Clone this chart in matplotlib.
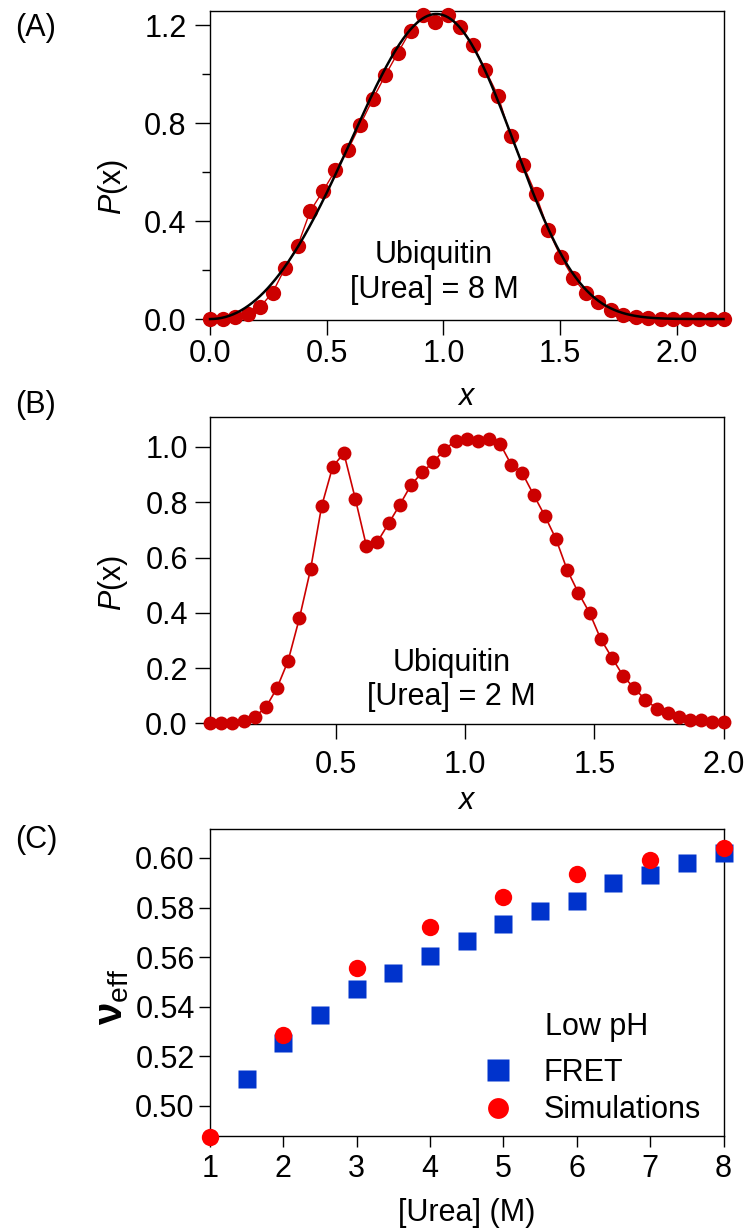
import numpy as np
import matplotlib
matplotlib.use("Agg")
import matplotlib.pyplot as plt
from matplotlib.ticker import FixedLocator, FormatStrFormatter

plt.rcParams['font.family'] = ['Liberation Sans', 'DejaVu Sans']
plt.rcParams['mathtext.fontset'] = 'custom'
plt.rcParams['mathtext.rm'] = 'Liberation Sans'
plt.rcParams['mathtext.it'] = 'Liberation Sans:italic'
plt.rcParams['mathtext.bf'] = 'Liberation Sans:bold'

# ---- panel A: Ubiquitin, 8 M urea ----
x_a = [0.000, 0.054, 0.107, 0.161, 0.215, 0.268, 0.322, 0.376, 0.429, 0.483,
       0.537, 0.590, 0.644, 0.698, 0.751, 0.805, 0.859, 0.912, 0.966, 1.020,
       1.073, 1.127, 1.180, 1.234, 1.288, 1.341, 1.395, 1.449, 1.502, 1.556,
       1.610, 1.663, 1.717, 1.771, 1.824, 1.878, 1.932, 1.985, 2.039, 2.093,
       2.146, 2.200]
p_a = [0.000, 0.000, 0.007, 0.020, 0.050, 0.108, 0.209, 0.300, 0.440, 0.521,
       0.607, 0.689, 0.794, 0.899, 0.995, 1.087, 1.177, 1.241, 1.214, 1.241,
       1.190, 1.118, 1.016, 0.911, 0.746, 0.630, 0.511, 0.364, 0.255, 0.168,
       0.105, 0.068, 0.038, 0.018, 0.007, 0.003, 0.000, 0.000, 0.000, 0.000,
       0.000, 0.000]
# fit (black line): P = amp * (x/xp)^a * exp((a/d) * (1 - (x/xp)^d))
FIT_AMP = 1.245
FIT_XP = 0.970
FIT_A = 2.05
FIT_D = 4.0

# ---- panel B: Ubiquitin, 2 M urea ----
x_b = [0.013, 0.056, 0.099, 0.143, 0.186, 0.229, 0.272, 0.315, 0.359, 0.402,
       0.445, 0.488, 0.531, 0.575, 0.618, 0.661, 0.704, 0.747, 0.790, 0.834,
       0.877, 0.920, 0.963, 1.006, 1.050, 1.093, 1.136, 1.179, 1.222, 1.266,
       1.309, 1.352, 1.395, 1.438, 1.482, 1.525, 1.568, 1.611, 1.654, 1.698,
       1.741, 1.784, 1.827, 1.870, 1.914, 1.957, 2.000]
p_b = [0.000, 0.000, 0.000, 0.008, 0.024, 0.058, 0.128, 0.226, 0.381, 0.557,
       0.786, 0.929, 0.977, 0.813, 0.642, 0.657, 0.723, 0.790, 0.861, 0.908,
       0.945, 0.990, 1.022, 1.030, 1.022, 1.030, 1.010, 0.935, 0.904, 0.825,
       0.750, 0.666, 0.555, 0.473, 0.399, 0.305, 0.238, 0.173, 0.127, 0.086,
       0.054, 0.038, 0.022, 0.013, 0.011, 0.007, 0.004]

# ---- panel C: nu_eff vs urea ----
urea_fret = [1.5, 2.0, 2.5, 3.0, 3.5, 4.0, 4.5, 5.0, 5.5, 6.0, 6.5, 7.0, 7.5, 8.0]
nu_fret = [0.5109, 0.5252, 0.5367, 0.5472, 0.5535, 0.5605, 0.5664, 0.5733,
           0.5787, 0.5827, 0.5898, 0.5931, 0.5978, 0.6018]
urea_sim = [1, 2, 3, 4, 5, 6, 7, 8]
nu_sim = [0.4875, 0.5284, 0.5557, 0.5722, 0.5844, 0.5934, 0.5992, 0.6040]

DARKRED = "#cc0000"
BLUE = "#0033cc"
RED = "#ff0000"
FS = 22

fig = plt.figure(figsize=(7.49, 12.29), dpi=100)
axA = fig.add_axes([0.2804, 0.7396, 0.6856, 0.2514])
axB = fig.add_axes([0.2804, 0.4109, 0.6856, 0.2498])
axC = fig.add_axes([0.2804, 0.0757, 0.6856, 0.2498])

for ax in (axA, axB, axC):
    for s in ax.spines.values():
        s.set_linewidth(1.0)

# panel A
axA.plot(x_a, p_a, color=DARKRED, lw=1.0, zorder=2, clip_on=False)
axA.plot(x_a, p_a, 'o', color=DARKRED, ms=11, mec='none', zorder=3, clip_on=False)
xf = np.linspace(0, 2.2, 400)
rf = xf / FIT_XP
axA.plot(xf, FIT_AMP * rf ** FIT_A * np.exp(FIT_A / FIT_D * (1 - rf ** FIT_D)),
         color='black', lw=1.8, zorder=4, clip_on=False)
axA.set_xlim(0, 2.2)
axA.set_ylim(-0.004, 1.257)
axA.set_xticks([0, 0.5, 1.0, 1.5, 2.0])
axA.set_yticks([0, 0.4, 0.8, 1.2])
axA.yaxis.set_minor_locator(FixedLocator([0.2, 0.6, 1.0]))
axA.xaxis.set_major_formatter(FormatStrFormatter('%.1f'))
axA.yaxis.set_major_formatter(FormatStrFormatter('%.1f'))
axA.tick_params(axis='both', which='major', direction='out', length=11, width=1,
                labelsize=FS)
axA.tick_params(axis='x', pad=3)
axA.tick_params(axis='y', pad=6)
axA.tick_params(axis='y', which='minor', direction='out', length=6, width=1)
axA.text(0.96, 0.261, "Ubiquitin", ha='center', va='center', fontsize=FS)
axA.text(0.96, 0.118, "[Urea] = 8 M", ha='center', va='center', fontsize=FS)
axA.set_ylabel(r"$P$(x)", fontsize=FS)
axA.set_xlabel(r"$x$", fontsize=FS)

# panel B
axB.plot(x_b, p_b, color=DARKRED, lw=1.2, zorder=2, clip_on=False)
axB.plot(x_b, p_b, 'o', color=DARKRED, ms=10, mec='none', zorder=3, clip_on=False)
axB.set_xlim(x_b[0], x_b[-1])
axB.set_ylim(-0.002, 1.108)
axB.set_xticks([0.5, 1.0, 1.5, 2.0])
axB.set_yticks([0, 0.2, 0.4, 0.6, 0.8, 1.0])
axB.xaxis.set_major_formatter(FormatStrFormatter('%.1f'))
axB.yaxis.set_major_formatter(FormatStrFormatter('%.1f'))
axB.tick_params(axis='both', which='major', direction='out', length=11, width=1,
                labelsize=FS)
axB.tick_params(axis='x', pad=8)
axB.tick_params(axis='y', pad=5)
axB.text(0.948, 0.220, "Ubiquitin", ha='center', va='center', fontsize=FS)
axB.text(0.948, 0.097, "[Urea] = 2 M", ha='center', va='center', fontsize=FS)
axB.set_ylabel(r"$P$(x)", fontsize=FS)
axB.set_xlabel(r"$x$", fontsize=FS)

# panel C
axC.plot(urea_fret, nu_fret, 's', color=BLUE, ms=13, mec='none', zorder=3,
         clip_on=False, label="FRET")
axC.plot(urea_sim, nu_sim, 'o', color=RED, ms=12.5, mec='none', zorder=4,
         clip_on=False, label="Simulations")
axC.set_xlim(1, 8)
axC.set_ylim(0.4878, 0.6117)
axC.set_xticks(range(1, 9))
axC.set_yticks([0.50, 0.52, 0.54, 0.56, 0.58, 0.60])
axC.yaxis.set_major_formatter(FormatStrFormatter('%.2f'))
axC.tick_params(axis='both', which='major', direction='out', length=8, width=1,
                labelsize=FS)
axC.tick_params(axis='x', pad=5)
axC.tick_params(axis='y', pad=3)
axC.set_xlabel("[Urea] (M)", fontsize=FS)
axC.set_ylabel(r"ν$_{\mathrm{eff}}$", fontsize=29, fontweight='bold')
axC.text(0.752, 0.355, "Low pH", transform=axC.transAxes, ha='center',
         va='center', fontsize=FS)
axC.legend(loc='center left', bbox_to_anchor=(0.531, 0.145),
           frameon=False, fontsize=FS, markerscale=1.2,
           handlelength=1.0, handletextpad=1.0, labelspacing=0.25,
           borderpad=0, borderaxespad=0)

# axis label placement
for ax, ly in ((axA, 0.43), (axB, 0.46)):
    ax.yaxis.set_label_coords(-0.189, ly)
    ax.yaxis.label.set_va('center')
    ax.yaxis.label.set_ha('center')
axC.yaxis.set_label_coords(-0.19, 0.453)
axC.yaxis.label.set_va('center')
axC.yaxis.label.set_ha('center')
for ax in (axA, axB, axC):
    ax.xaxis.set_label_coords(0.5, -0.25)
    ax.xaxis.label.set_va('center')

# panel letters
fig.text(15 / 749, 1 - 28 / 1229, "(A)", fontsize=FS, va='center', ha='left')
fig.text(15 / 749, 1 - 405 / 1229, "(B)", fontsize=FS, va='center', ha='left')
fig.text(15 / 749, 1 - 840 / 1229, "(C)", fontsize=FS, va='center', ha='left')

fig.savefig("out.png", dpi=100)
